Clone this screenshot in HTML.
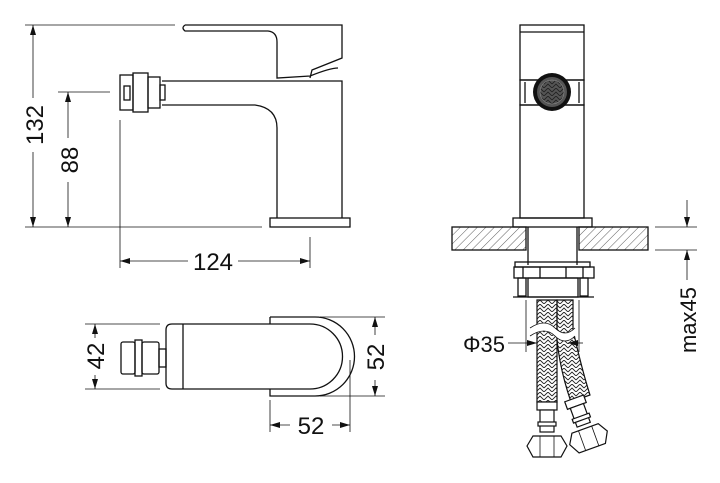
<!DOCTYPE html>
<html><head><meta charset="utf-8"><style>
html,body{margin:0;padding:0;background:#fff;width:720px;height:483px;overflow:hidden}
svg text{font-family:"Liberation Sans",sans-serif;fill:#111}
</style></head><body>
<svg width="720" height="483" viewBox="0 0 720 483" xmlns="http://www.w3.org/2000/svg">
<defs>
<pattern id="h" width="6" height="6" patternUnits="userSpaceOnUse" patternTransform="rotate(45)">
<line x1="0" y1="0" x2="0" y2="6" stroke="#333" stroke-width="0.8"/></pattern>
<pattern id="br" width="8" height="8" patternUnits="userSpaceOnUse">
<path d="M0,4 L4,0 L8,4 M0,8 L4,4 L8,8" fill="none" stroke="#222" stroke-width="0.9"/></pattern>
<marker id="a" viewBox="0 0 10 6" refX="10" refY="3" markerWidth="10" markerHeight="6" orient="auto-start-reverse" markerUnits="userSpaceOnUse"><path d="M0,0 L10,3 L0,6z" fill="#111"/></marker>
</defs>
<g fill="none" stroke="#111" stroke-width="1.3">
<path d="M185,25 L342,25 L342,58 L312,70 L310,78"/>
<path d="M185,25 Q181,28 185,31 L268,31 Q277,32 277,42 L277,78 L310,76 Q330,68 338,68"/>
<path d="M162,81 L342,81 L342,218"/>
<path d="M162,105 L255,105 Q277,108 277,128 L277,218"/>
<rect x="270" y="218" width="80" height="9"/>
<rect x="120" y="75" width="13" height="35"/>
<rect x="133" y="73" width="15" height="39"/>
<rect x="148" y="77" width="12" height="31"/>
<rect x="160" y="85" width="5" height="15"/>
<rect x="124" y="86" width="6" height="14"/>
</g>
<g stroke="#111" stroke-width="0.8" fill="none">
<line x1="25" y1="25" x2="175" y2="25"/>
<line x1="25" y1="227" x2="262" y2="227"/>
<line x1="58" y1="92" x2="110" y2="92"/>
<line x1="33" y1="25" x2="33" y2="98" marker-start="url(#a)"/>
<line x1="33" y1="152" x2="33" y2="227" marker-end="url(#a)"/>
<line x1="68" y1="92" x2="68" y2="138" marker-start="url(#a)"/>
<line x1="68" y1="182" x2="68" y2="227" marker-end="url(#a)"/>
<line x1="120" y1="120" x2="120" y2="268"/>
<line x1="310" y1="237" x2="310" y2="268"/>
<line x1="120" y1="261" x2="188" y2="261" marker-start="url(#a)"/>
<line x1="238" y1="261" x2="310" y2="261" marker-end="url(#a)"/>
</g>
<text x="0" y="0" font-size="24" transform="translate(43,125) rotate(-90)" text-anchor="middle">132</text>
<text x="0" y="0" font-size="24" transform="translate(78,160) rotate(-90)" text-anchor="middle">88</text>
<text x="213" y="270" font-size="24" text-anchor="middle">124</text>

<g fill="none" stroke="#111" stroke-width="1.3">
<rect x="520" y="25" width="64" height="55"/>
<line x1="520" y1="32" x2="584" y2="32"/>
<rect x="520" y="80" width="64" height="25"/>
<line x1="525" y1="82" x2="525" y2="103"/><line x1="579" y1="82" x2="579" y2="103"/>
<rect x="520" y="105" width="64" height="113"/>
<rect x="513" y="218" width="79" height="9"/>
<rect x="452" y="227" width="74" height="23" fill="url(#h)"/>
<rect x="579" y="227" width="69" height="23" fill="url(#h)"/>
<line x1="528" y1="227" x2="528" y2="265"/><line x1="577" y1="227" x2="577" y2="265"/>
<rect x="515" y="262" width="75" height="5"/>
<rect x="514" y="267" width="80" height="11"/>
<line x1="523" y1="267" x2="523" y2="278"/><line x1="540" y1="267" x2="540" y2="278"/>
<line x1="566" y1="267" x2="566" y2="278"/><line x1="583" y1="267" x2="583" y2="278"/>
<rect x="518" y="278" width="8" height="18"/><rect x="580" y="278" width="8" height="18"/>
<rect x="528" y="278" width="50" height="19"/>
<line x1="513" y1="297" x2="594" y2="297"/>
</g>
<circle cx="552" cy="92" r="19" fill="#111"/>
<circle cx="552" cy="92" r="15" fill="#555"/>
<circle cx="552" cy="92" r="12" fill="url(#br)" stroke="#999" stroke-width="0.5"/>
<g stroke="#111" stroke-width="1.2">
<path d="M537,300 L537,402 L557,402 L557,300z" fill="url(#br)"/>
<path d="M557,300 L573,300 L573,330 Q582,370 590,395 L571,402 Q560,370 557,340z" fill="url(#br)"/>
<path d="M530,328 Q545,318 555,328 Q565,338 575,328 L575,336 Q565,346 555,336 Q545,326 530,336z" fill="#fff" stroke="none"/>
<path d="M530,328 Q545,318 555,328 Q565,338 575,328 M530,336 Q545,326 555,336 Q565,346 575,336" fill="none" stroke-width="0.8"/>
<rect x="537" y="402" width="20" height="8" fill="#fff"/>
<rect x="540" y="410" width="14" height="22" fill="#fff"/>
<rect x="538" y="422" width="18" height="4" fill="#fff"/>
<path d="M527,446 L533,436 L561,436 L567,446 L561,457 L533,457z" fill="#fff"/>
<line x1="540" y1="436" x2="540" y2="457" stroke-width="0.8"/><line x1="554" y1="436" x2="554" y2="457" stroke-width="0.8"/>
<g transform="rotate(-20 582 420)">
<rect x="572" y="397" width="20" height="8" fill="#fff"/>
<rect x="575" y="405" width="14" height="20" fill="#fff"/>
<rect x="573" y="416" width="18" height="4" fill="#fff"/>
<path d="M562,439 L568,429 L596,429 L602,439 L596,450 L568,450z" fill="#fff"/>
<line x1="575" y1="429" x2="575" y2="450" stroke-width="0.8"/><line x1="589" y1="429" x2="589" y2="450" stroke-width="0.8"/>
</g>
</g>
<g stroke="#111" stroke-width="0.8" fill="none">
<line x1="526" y1="300" x2="526" y2="352"/><line x1="579" y1="300" x2="579" y2="352"/>
<line x1="508" y1="343" x2="537" y2="343" marker-end="url(#a)"/>
<line x1="583" y1="343" x2="568" y2="343" marker-end="url(#a)"/>
<line x1="655" y1="227" x2="697" y2="227"/><line x1="655" y1="250" x2="697" y2="250"/>
<line x1="687" y1="200" x2="687" y2="227" marker-end="url(#a)"/>
<line x1="687" y1="280" x2="687" y2="250" marker-end="url(#a)"/>
</g>
<text x="484" y="352" font-size="22" text-anchor="middle">Φ35</text>
<text x="0" y="0" font-size="22" transform="translate(696,320) rotate(-90)" text-anchor="middle">max45</text>

<g fill="none" stroke="#111" stroke-width="1.3">
<path d="M270,317 L315,317 A39.5,39.5 0 0 1 315,396 L270,396 L270,389"/>
<path d="M270,317 L270,324"/>
<path d="M172,324 L310,324 A32.5,32.5 0 0 1 310,389 L172,389 Q166,389 166,383 L166,330 Q166,324 172,324z"/>
<line x1="183" y1="324" x2="183" y2="389"/>
<rect x="121" y="342" width="14" height="32" rx="2"/>
<rect x="135" y="340" width="7" height="36"/>
<rect x="142" y="342" width="17" height="32" rx="2"/>
<rect x="159" y="349" width="7" height="18"/>
</g>
<g stroke="#111" stroke-width="0.8" fill="none">
<line x1="85" y1="324" x2="160" y2="324"/><line x1="85" y1="389" x2="160" y2="389"/>
<line x1="95" y1="324" x2="95" y2="338" marker-start="url(#a)"/>
<line x1="95" y1="375" x2="95" y2="389" marker-end="url(#a)"/>
<line x1="320" y1="317" x2="385" y2="317"/><line x1="320" y1="396" x2="385" y2="396"/>
<line x1="375" y1="317" x2="375" y2="335" marker-start="url(#a)"/>
<line x1="375" y1="380" x2="375" y2="396" marker-end="url(#a)"/>
<line x1="270" y1="400" x2="270" y2="432"/><line x1="350" y1="360" x2="350" y2="432"/>
<line x1="270" y1="425" x2="290" y2="425" marker-start="url(#a)"/>
<line x1="332" y1="425" x2="350" y2="425" marker-end="url(#a)"/>
</g>
<text x="0" y="0" font-size="24" transform="translate(104,356) rotate(-90)" text-anchor="middle">42</text>
<text x="0" y="0" font-size="24" transform="translate(384,357) rotate(-90)" text-anchor="middle">52</text>
<text x="311" y="434" font-size="24" text-anchor="middle">52</text>
</svg>
</body></html>
